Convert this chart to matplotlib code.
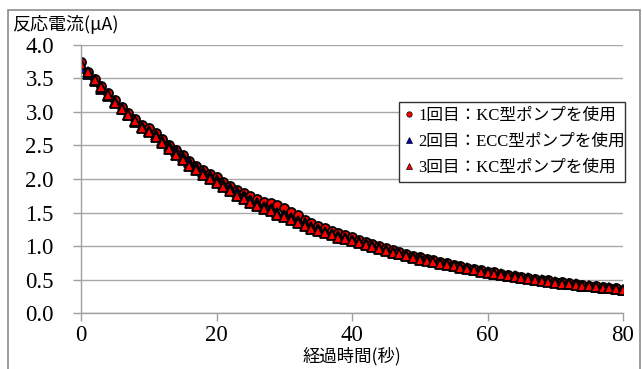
import matplotlib
matplotlib.use('Agg')
import matplotlib.pyplot as plt
from matplotlib.patches import Rectangle

# elapsed time (s)
t = list(range(0, 81))

# 1回目：KC型ポンプ (red circles)
run1 = [3.74, 3.60, 3.49, 3.39, 3.28, 3.17, 3.07, 2.98, 2.89, 2.81,
        2.76, 2.68, 2.59, 2.51, 2.43, 2.35, 2.27, 2.20, 2.13, 2.08,
        2.03, 1.95, 1.90, 1.83, 1.79, 1.75, 1.70, 1.66, 1.65, 1.61,
        1.57, 1.51, 1.46, 1.39, 1.35, 1.30, 1.27, 1.23, 1.19, 1.16,
        1.13, 1.09, 1.06, 1.03, 1.00, 0.97, 0.94, 0.91, 0.89, 0.86,
        0.84, 0.81, 0.79, 0.77, 0.75, 0.72, 0.70, 0.68, 0.66, 0.64,
        0.62, 0.61, 0.59, 0.57, 0.56, 0.54, 0.53, 0.51, 0.50, 0.49,
        0.47, 0.46, 0.45, 0.44, 0.42, 0.41, 0.40, 0.39, 0.38, 0.37,
        0.35]

# 2回目：ECC型ポンプ (blue triangles)
run2 = [3.65, 3.56, 3.46, 3.34, 3.24, 3.14, 3.04, 2.95, 2.85, 2.77,
        2.71, 2.65, 2.57, 2.49, 2.41, 2.33, 2.25, 2.18, 2.11, 2.05,
        1.99, 1.92, 1.87, 1.80, 1.74, 1.69, 1.64, 1.59, 1.55, 1.50,
        1.46, 1.42, 1.38, 1.34, 1.29, 1.25, 1.21, 1.18, 1.15, 1.12,
        1.09, 1.06, 1.03, 1.00, 0.97, 0.94, 0.92, 0.89, 0.87, 0.84,
        0.82, 0.79, 0.77, 0.75, 0.73, 0.71, 0.69, 0.67, 0.65, 0.63,
        0.61, 0.59, 0.58, 0.56, 0.55, 0.53, 0.52, 0.50, 0.49, 0.48,
        0.46, 0.45, 0.44, 0.43, 0.41, 0.40, 0.39, 0.38, 0.37, 0.36,
        0.34]

# 3回目：KC型ポンプ (red triangles)
run3 = [3.71, 3.59, 3.47, 3.37, 3.25, 3.13, 3.04, 2.95, 2.86, 2.76,
        2.70, 2.63, 2.53, 2.44, 2.36, 2.28, 2.20, 2.13, 2.06, 2.00,
        1.94, 1.88, 1.82, 1.75, 1.70, 1.65, 1.60, 1.56, 1.52, 1.47,
        1.43, 1.39, 1.34, 1.30, 1.25, 1.22, 1.19, 1.16, 1.12, 1.10,
        1.07, 1.04, 1.01, 0.98, 0.96, 0.93, 0.90, 0.88, 0.85, 0.83,
        0.80, 0.78, 0.76, 0.74, 0.72, 0.70, 0.68, 0.66, 0.64, 0.62,
        0.60, 0.58, 0.57, 0.55, 0.54, 0.52, 0.51, 0.49, 0.48, 0.47,
        0.45, 0.44, 0.43, 0.42, 0.41, 0.40, 0.39, 0.38, 0.37, 0.36,
        0.34]

labels = ['1回目：KC型ポンプを使用', '2回目：ECC型ポンプを使用', '3回目：KC型ポンプを使用']
xticks = [0, 20, 40, 60, 80]
yticks = [0.0, 0.5, 1.0, 1.5, 2.0, 2.5, 3.0, 3.5, 4.0]

num = ['Liberation Serif', 'DejaVu Serif', 'DejaVu Sans']
jp = ['Liberation Serif', 'Noto Sans CJK JP', 'DejaVu Sans']
plt.rcParams['font.family'] = num
W, H = 642, 369

fig = plt.figure(figsize=(W / 100, H / 100), dpi=100)
ax = fig.add_axes([81 / W, 1 - 313.3 / H, 542 / W, 268.6 / H])

# outer chart frame
fig.patches.append(Rectangle((8 / W, -0.02), (640 - 8) / W, 1 - 9.5 / H + 0.02,
                             transform=fig.transFigure, fill=False,
                             edgecolor='#8c8c8c', lw=1.2))

ax.plot(t, run1, ls='none', marker='o', ms=6.5, mfc='#ff0000', mec='black', mew=1.3, label=labels[0])
ax.plot(t, run2, ls='none', marker='^', ms=6.5, mfc='#0000cc', mec='black', mew=1.3, label=labels[1])
ax.plot(t, run3, ls='none', marker='^', ms=6.5, mfc='#ff0000', mec='black', mew=1.3, label=labels[2])

ax.set_xlim(0, 80)
ax.set_ylim(0, 4.0)
ax.set_xticks(xticks)
ax.set_yticks(yticks)
ax.set_xticklabels([str(v) for v in xticks])
ax.set_yticklabels([f'{v:.1f}' for v in yticks])
ax.tick_params(axis='both', direction='out', length=5.5, width=1, color='#a0a0a0', labelsize=16.5)
ax.tick_params(axis='y', pad=14)
ax.tick_params(axis='x', pad=3)

ax.grid(axis='y', color='#a8a8a8', lw=1)
ax.set_axisbelow(True)
for s in ['top', 'right']:
    ax.spines[s].set_visible(False)
for s in ['left', 'bottom']:
    ax.spines[s].set_color('#a0a0a0')
    ax.spines[s].set_linewidth(1)

ax.set_ylabel('反応電流(μA)', family=['Noto Sans CJK JP', 'DejaVu Sans'], fontsize=13,
              rotation=0, ha='left', va='center')
ax.yaxis.set_label_coords(-0.127, 1.077)
ax.set_xlabel('経過時間(秒)', family=['Noto Sans CJK JP', 'DejaVu Sans'], fontsize=12.5, va='center')
ax.xaxis.set_label_coords(0.5, -0.158)

leg = ax.legend(loc='upper left', bbox_to_anchor=(0.587, 0.496, 0.417, 0.291), mode='expand',
                prop={'family': jp, 'size': 12}, frameon=True, fancybox=False,
                framealpha=1, edgecolor='#333333', markerscale=0.6,
                handlelength=0.5, handletextpad=0.3, borderpad=0.35, labelspacing=0.6,
                borderaxespad=0)
leg.get_frame().set_linewidth(1)
for h in leg.legend_handles:
    h.set_markeredgewidth(0.5)

for lbl in ax.get_xticklabels() + ax.get_yticklabels():
    lbl.set_fontfamily(num)

fig.savefig('out.png', dpi=100)
